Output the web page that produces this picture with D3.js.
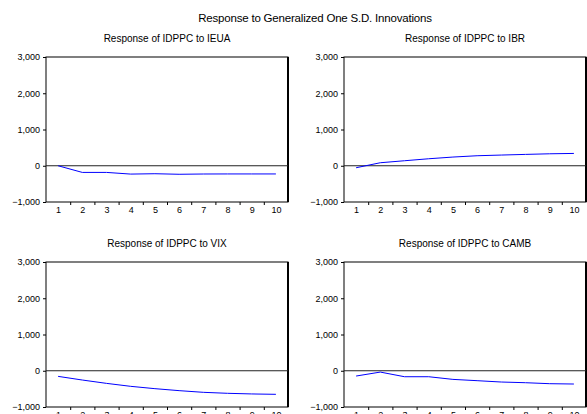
<!DOCTYPE html>
<html>
<head>
<meta charset="utf-8">
<script src="https://cdn.jsdelivr.net/npm/d3@7"></script>
<style>
  body { margin: 0; background: #fff; }
  text { font-family: "Liberation Sans", Arial, sans-serif; fill: #000; }
</style>
</head>
<body>
<div id="chart"></div>
<script>
// periods and responses
let periods = [1, 2, 3, 4, 5, 6, 7, 8, 9, 10];
let ieua = [0, -184, -184, -230, -220, -235, -228, -226, -226, -226];
let ibr = [-55, 83, 138, 193, 240, 276, 295, 313, 330, 340];
let vix = [-155, -256, -348, -430, -494, -549, -595, -622, -640, -650];
let camb = [-146, -37, -165, -165, -238, -274, -311, -330, -357, -366];
let yTicks = [-1000, 0, 1000, 2000, 3000];
let mainTitle = "Response to Generalized One S.D. Innovations";
let panelTitles = ["Response of IDPPC to IEUA", "Response of IDPPC to IBR",
    "Response of IDPPC to VIX", "Response of IDPPC to CAMB"];

let panels = [
    { title: panelTitles[0], values: ieua, left: 46, top: 57 },
    { title: panelTitles[1], values: ibr, left: 344, top: 57 },
    { title: panelTitles[2], values: vix, left: 46, top: 262 },
    { title: panelTitles[3], values: camb, left: 344, top: 262 }
]

let width = 242;
let height = 145;

let svg = d3.select("#chart")
    .append("svg")
    .attr("width", 587)
    .attr("height", 414)

svg.append("text")
    .attr("x", 315)
    .attr("y", 22)
    .attr("text-anchor", "middle")
    .style("font-size", "11.5px")
    .style("letter-spacing", "-0.2px")
    .text(mainTitle)

panels.forEach(function (p) {
    let g = svg.append("g")
        .attr("transform", "translate(" + p.left + "," + p.top + ")");

    let x = d3.scaleLinear().domain([0.5, 10.5]).range([0, width]);
    let y = d3.scaleLinear().domain([-1000, 3000]).range([height, 0]);

    g.append("text")
        .attr("x", width / 2)
        .attr("y", -15)
        .attr("text-anchor", "middle")
        .style("font-size", "10px")
        .text(p.title)

    // frame
    g.append("rect")
        .attr("width", width)
        .attr("height", height)
        .attr("fill", "none")
        .attr("stroke", "#000")
        .attr("stroke-width", 1)
    g.append("line")
        .attr("x1", width).attr("x2", width)
        .attr("y1", 0).attr("y2", height)
        .attr("stroke", "#000")
        .attr("stroke-width", 2)

    // zero line
    g.append("line")
        .attr("x1", 0).attr("x2", width)
        .attr("y1", y(0)).attr("y2", y(0))
        .attr("stroke", "#222")
        .attr("stroke-width", 1)

    let yAxis = d3.axisLeft(y).tickValues(yTicks).tickFormat(d3.format(",")).tickSize(3).tickPadding(3);
    let ya = g.append("g").call(yAxis);
    ya.select(".domain").remove();
    ya.selectAll("text").style("font-size", "9px");

    // labels centred in each period, tick marks between periods
    let xLabels = d3.axisBottom(x).tickValues(periods).tickSize(0).tickPadding(5);
    let xa = g.append("g").attr("transform", "translate(0," + height + ")").call(xLabels);
    xa.select(".domain").remove();
    xa.selectAll("text").style("font-size", "9px");

    let xMarks = d3.axisBottom(x).tickValues(periods.slice(0, 9).map(d => d + 0.5)).tickSize(3).tickFormat("");
    let xm = g.append("g").attr("transform", "translate(0," + height + ")").call(xMarks);
    xm.select(".domain").remove();

    g.append("path")
        .datum(p.values)
        .attr("fill", "none")
        .attr("stroke", "#0000ff")
        .attr("stroke-width", 1)
        .attr("d", d3.line()
            .x((d, i) => x(periods[i]))
            .y(d => y(d)))
})
</script>
</body>
</html>
